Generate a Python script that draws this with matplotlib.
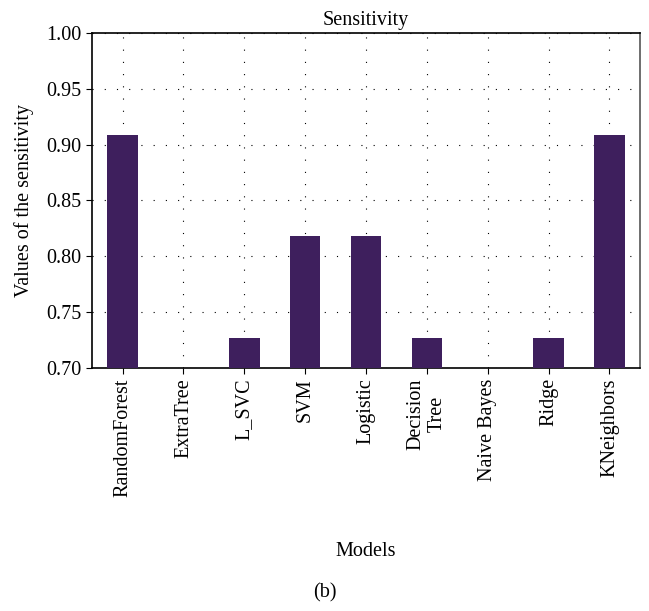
import matplotlib
matplotlib.use("Agg")
import matplotlib.pyplot as plt
import numpy as np

plt.rcParams['font.family'] = ['Liberation Serif', 'DejaVu Serif']

models = ["RandomForest", "ExtraTree", "L_SVC", "SVM", "Logistic",
          "Decision\nTree", "Naive Bayes", "Ridge", "KNeighbors"]
sensitivity = [0.909, 0.636, 0.727, 0.818, 0.818, 0.727, 0.636, 0.727, 0.909]

fig = plt.figure(figsize=(6.49, 6.11), dpi=100)
ax = fig.add_axes([0.142, 0.398, 0.844, 0.548])

x = np.arange(len(models))
ax.bar(x, sensitivity, width=0.5, color="#3e1f5d", zorder=3)
ax.set_xlim(-0.5, len(models) - 0.5)
ax.set_ylim(0.70, 1.00)
ticks = np.arange(0.70, 1.001, 0.05)
ax.set_yticks(ticks)
ax.set_yticklabels(["%.2f" % v for v in ticks], fontsize=14.5)
ax.set_xticks(x)
ax.set_xticklabels(models, rotation=90, fontsize=14.5, linespacing=1.15)
ax.grid(True, linestyle=(0, (1, 10)), color="black", linewidth=0.8, zorder=0)
ax.set_axisbelow(True)
ax.tick_params(direction="out", length=4)
for s in ax.spines.values():
    s.set_linewidth(1.2)
ax.spines['right'].set_color("#555555")

ax.set_title("Sensitivity", fontsize=14.5, pad=6)
ax.set_ylabel("Values of the sensitivity", fontsize=14.5, labelpad=9)
ax.set_xlabel("Models", fontsize=14.5, labelpad=33)
fig.text(0.5, 0.029, "(b)", ha="center", va="center", fontsize=14.5)

fig.savefig("out.png", dpi=100)
